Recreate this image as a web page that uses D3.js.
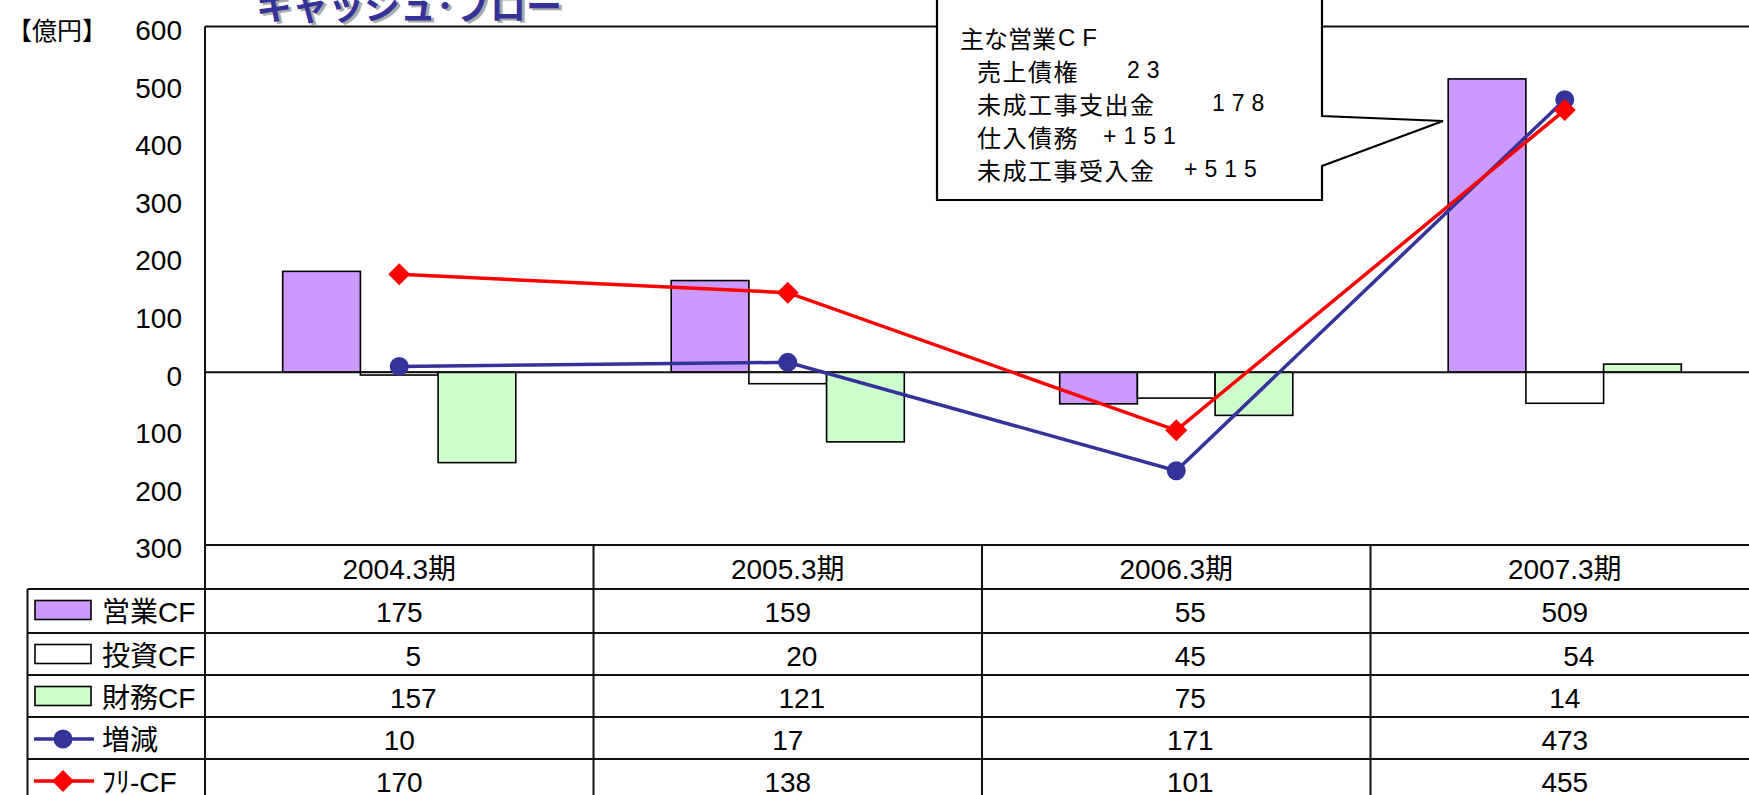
<!DOCTYPE html>
<html><head><meta charset="utf-8">
<script src="https://cdn.jsdelivr.net/npm/d3@7"></script>
<style>
body{margin:0;background:#fff;overflow:hidden;}
svg{display:block;font-family:"Liberation Sans","Noto Sans CJK JP",sans-serif;}
</style>
</head><body>
<svg id="c" width="1749" height="795"></svg>
<script>
// ---- data ----
const categories = ["2004.3期","2005.3期","2006.3期","2007.3期"];
const operatingCF = [175, 159, -55, 509];
const investingCF = [-5, -20, -45, -54];
const financingCF = [-157, -121, -75, 14];
const netChange   = [10, 17, -171, 473];
const freeCF      = [170, 138, -101, 455];
const yTicks = [-300,-200,-100,0,100,200,300,400,500,600];
const barNames  = ["営業CF","投資CF","財務CF"];
const lineNames = ["増減","ﾌﾘ-CF"];
const titleText = "キャッシュ･フロー";
const unitText = "【億円】";
const calloutTitle = ["主な営業","CF"];
const calloutLabels = ["売上債権","未成工事支出金","仕入債務","未成工事受入金"];
const calloutValues = ["23","178","+151","+515"];

// ---- styles ----
const barFill = {"営業CF":"#CC99FF","投資CF":"#FFFFFF","財務CF":"#CCFFCC"};
const lineColor = {"増減":"#333399","ﾌﾘ-CF":"#FF0000"};
const lineShape = {"増減":"circle","ﾌﾘ-CF":"diamond"};

const barData = [operatingCF, investingCF, financingCF];
const lineData = [netChange, freeCF];

const svg = d3.select("#c");
const W = 1749;
const plotL = 205, plotR = 205 + 4*388.5, plotT = 26.5, plotB = 545;

const x = d3.scaleBand().domain(categories).range([plotL, plotR]).paddingInner(0).paddingOuter(0);
const xs = d3.scaleBand().domain(barNames).range([0, x.bandwidth()]).paddingInner(0).paddingOuter(1);
const y = d3.scaleLinear().domain([-300, 600]).range([plotB, plotT]);

// title
const tg = svg.append("g");
tg.append("text").attr("x", 259).attr("y", 22).text(titleText)
  .attr("font-family","Noto Sans CJK JP").attr("font-weight","bold").attr("font-size",36).attr("fill","#aaaaaa");
tg.append("text").attr("x", 256).attr("y", 20).text(titleText)
  .attr("font-family","Noto Sans CJK JP").attr("font-weight","bold").attr("font-size",36).attr("fill","#333399");

// unit label
svg.append("text").attr("x", 7).attr("y", 29).attr("dominant-baseline","central")
  .attr("font-family","Noto Sans CJK JP").attr("font-size",25).text(unitText);

// plot frame
svg.append("line").attr("x1",plotL).attr("x2",W).attr("y1",plotT).attr("y2",plotT).attr("stroke","#111").attr("stroke-width",2);
svg.append("line").attr("x1",plotL).attr("x2",plotL).attr("y1",plotT).attr("y2",795).attr("stroke","#111").attr("stroke-width",2);

// y axis labels
const yAxis = d3.axisLeft(y).tickValues(yTicks).tickSize(0).tickPadding(23).tickFormat(d => Math.abs(d));
const ya = svg.append("g").attr("transform",`translate(${plotL},4)`).call(yAxis);
ya.select(".domain").remove();
ya.selectAll("text").attr("font-size",28).attr("fill","#000").attr("font-family","Liberation Sans");

// bars
barNames.forEach((name, si) => {
  svg.append("g").selectAll("rect").data(barData[si]).join("rect")
    .attr("x", (d,i) => x(categories[i]) + xs(name))
    .attr("width", xs.bandwidth())
    .attr("y", d => y(Math.max(0,d)))
    .attr("height", d => Math.abs(y(d) - y(0)))
    .attr("fill", barFill[name]).attr("stroke","#000").attr("stroke-width",1.6);
});

// zero line
svg.append("line").attr("x1",plotL).attr("x2",W).attr("y1",y(0)).attr("y2",y(0)).attr("stroke","#111").attr("stroke-width",2);

// lines
const cx = i => x(categories[i]) + x.bandwidth()/2;
lineNames.forEach((name, li) => {
  const vals = lineData[li];
  const g = svg.append("g");
  g.append("path").datum(vals)
    .attr("d", d3.line().x((d,i)=>cx(i)).y(d=>y(d)))
    .attr("fill","none").attr("stroke",lineColor[name]).attr("stroke-width",3.5);
  if (lineShape[name] === "circle") {
    g.selectAll("circle").data(vals).join("circle")
      .attr("cx",(d,i)=>cx(i)).attr("cy",d=>y(d)).attr("r",9.5).attr("fill",lineColor[name]);
  } else {
    g.selectAll("path.m").data(vals).join("path").attr("class","m")
      .attr("d",(d,i)=>`M${cx(i)},${y(d)-11}L${cx(i)+11},${y(d)}L${cx(i)},${y(d)+11}L${cx(i)-11},${y(d)}Z`)
      .attr("fill",lineColor[name]);
  }
});

// callout
const bx0 = 937, bx1 = 1322, by0 = -5, by1 = 200;
svg.append("path")
  .attr("d", `M${bx0},${by0}L${bx1},${by0}L${bx1},116L1443,121L${bx1},166L${bx1},${by1}L${bx0},${by1}Z`)
  .attr("fill","#fff").attr("stroke","#000").attr("stroke-width",2.2);
const cfs = 24;
const ct = svg.append("text").attr("x",960).attr("y",37).attr("dominant-baseline","central").attr("font-size",cfs).attr("font-family","Noto Sans CJK JP");
ct.append("tspan").text(calloutTitle[0]);
ct.append("tspan").text(calloutTitle[1]).attr("font-family","Liberation Sans").attr("letter-spacing",7).attr("dx",2);
const lineY = [70, 103, 136, 169];
const valX = [1127, 1212, 1103, 1184];
calloutLabels.forEach((lab, i) => {
  svg.append("text").attr("x",977).attr("y",lineY[i]).attr("dominant-baseline","central")
    .attr("font-size",cfs).attr("font-family","Noto Sans CJK JP").attr("letter-spacing",1.5).text(lab);
  svg.append("text").attr("x",valX[i]).attr("y",lineY[i]).attr("dominant-baseline","central")
    .attr("font-size",23).attr("font-family","Liberation Sans").attr("letter-spacing",7).text(calloutValues[i]);
});

// data table
const tableL = 27.5;
const rowTops = [589, 633, 675, 717, 759];
const rowH = 42;
const tbl = svg.append("g");
categories.forEach(c => {
  tbl.append("text").attr("x", x(c) + x.bandwidth()/2).attr("y", 569).attr("text-anchor","middle")
    .attr("dominant-baseline","central").attr("font-size",28).text(c);
});
[545].forEach(yy => tbl.append("line").attr("x1",plotL).attr("x2",W).attr("y1",yy).attr("y2",yy).attr("stroke","#111").attr("stroke-width",2));
rowTops.forEach(yy => tbl.append("line").attr("x1",tableL).attr("x2",W).attr("y1",yy).attr("y2",yy).attr("stroke","#111").attr("stroke-width",2));
tbl.append("line").attr("x1",tableL).attr("x2",tableL).attr("y1",rowTops[0]).attr("y2",795).attr("stroke","#111").attr("stroke-width",2);
categories.slice(1).forEach(c => tbl.append("line").attr("x1",x(c)).attr("x2",x(c)).attr("y1",plotB).attr("y2",795).attr("stroke","#111").attr("stroke-width",2));

const allNames = barNames.concat(lineNames);
const allData = barData.concat(lineData);
allNames.forEach((name, ri) => {
  const cy = rowTops[ri] + rowH/2;
  if (ri < 3) {
    tbl.append("rect").attr("x",35).attr("y",cy-9.5).attr("width",56).attr("height",19)
      .attr("fill",barFill[name]).attr("stroke","#000").attr("stroke-width",1.6);
  } else {
    const col = lineColor[name];
    tbl.append("line").attr("x1",34).attr("x2",94).attr("y1",cy+1).attr("y2",cy+1).attr("stroke",col).attr("stroke-width",3.5);
    if (lineShape[name] === "circle") tbl.append("circle").attr("cx",63).attr("cy",cy+1).attr("r",9.5).attr("fill",col);
    else tbl.append("path").attr("d",`M63,${cy+1-11}L74,${cy+1}L63,${cy+12}L52,${cy+1}Z`).attr("fill",col);
  }
  tbl.append("text").attr("x",102).attr("y",cy+2).attr("dominant-baseline","central")
    .attr("font-size",28).text(name);
  allData[ri].forEach((v, ci) => {
    tbl.append("text").attr("x", x(categories[ci]) + x.bandwidth()/2 + (v < 0 ? 14 : 0))
      .attr("y", cy + 2).attr("text-anchor","middle").attr("dominant-baseline","central")
      .attr("font-size",28).text(Math.abs(v));
  });
});
</script>
</body></html>
